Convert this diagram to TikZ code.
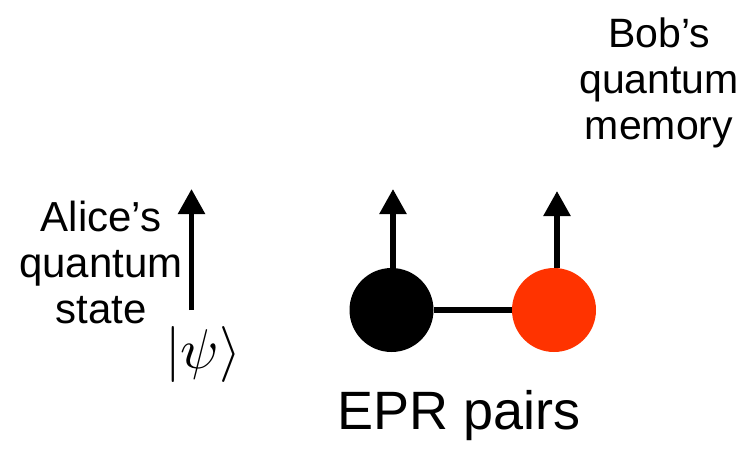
\documentclass[tikz,border=0pt]{standalone}
\usepackage{graphicx}
\usepackage{fontspec}
\setmainfont{Liberation Sans}
\usetikzlibrary{arrows.meta}
\definecolor{bobred}{HTML}{FF3300}
\begin{document}
\begin{tikzpicture}[x=1pt,y=-1pt,
  spin/.style={circle,minimum size=84pt,inner sep=0pt,draw=none},
  spinarrow/.style={line width=5.5pt,-{Triangle[width=26pt,length=25pt]}},
  bond/.style={line width=5.5pt},
  label/.style={align=center,inner sep=0pt,font=\fontsize{42}{46}\selectfont},
  big/.style={inner sep=0pt,font=\fontsize{54}{60}\selectfont}]
  \useasboundingbox (0,0) rectangle (745,448);

  % Alice's qubit
  \coordinate (abase) at (191.5,310);
  \coordinate (atip) at (191.5,189);
  \draw[spinarrow] (abase) -- (atip);
  \node[label] (alice) at (101,262) {Alice’s\\quantum\\state};
  \node[inner sep=0pt] (psi) at (203,354) {\scalebox{5.6}{$|\psi\rangle$}};

  % EPR pair
  \node[spin,fill=black] (e1) at (391.5,310) {};
  \node[spin,fill=bobred] (e2) at (554,310) {};
  \draw[bond] (e1) -- (e2);
  \coordinate (t1) at (393,189);
  \coordinate (t2) at (557,191);
  \draw[spinarrow] (e1.north -| t1) -- (t1);
  \draw[spinarrow] (e2.north -| t2) -- (t2);
  \node[big,anchor=base] (epr) at (459,429) {EPR pairs};

  % Bob's memory label
  \node[label,font=\fontsize{41}{46}\selectfont] (bob) at (659,83) {Bob’s\\quantum\\memory};
\end{tikzpicture}
\end{document}
